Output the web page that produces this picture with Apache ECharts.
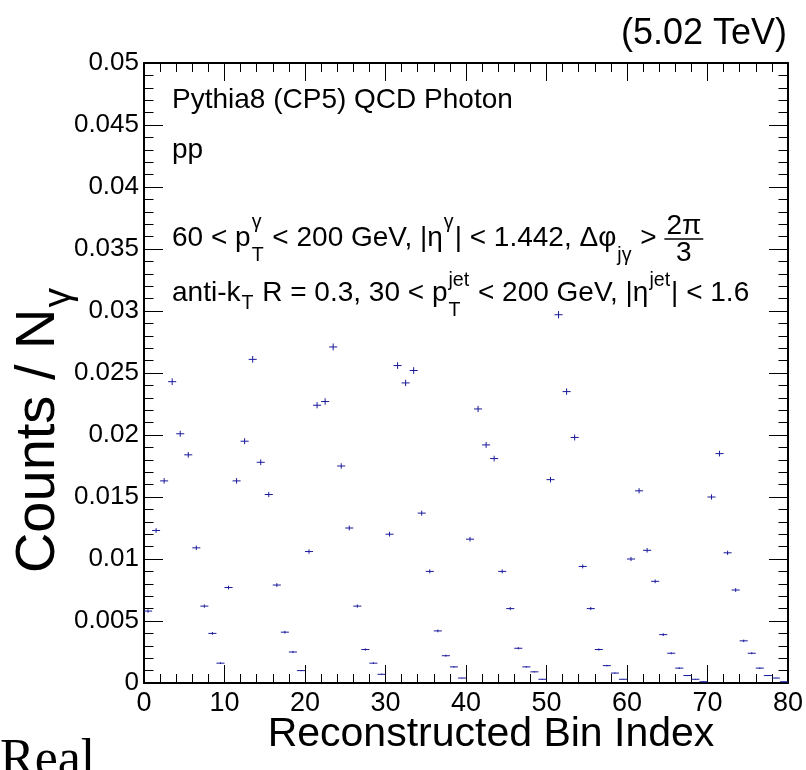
<!DOCTYPE html>
<html>
<head>
<meta charset="utf-8">
<script src="https://cdn.jsdelivr.net/npm/echarts@6/dist/echarts.min.js"></script>
<style>
html,body{margin:0;padding:0;background:#fff;}
#chart{width:806px;height:770px;}
</style>
</head>
<body>
<div id="chart"></div>
<script>
// ---- data ----
const binCenters = [0.5,1.5,2.5,3.5,4.5,5.5,6.5,7.5,8.5,9.5,10.5,11.5,12.5,13.5,14.5,15.5,16.5,17.5,18.5,19.5,
  20.5,21.5,22.5,23.5,24.5,25.5,26.5,27.5,28.5,29.5,30.5,31.5,32.5,33.5,34.5,35.5,36.5,37.5,38.5,39.5,
  40.5,41.5,42.5,43.5,44.5,45.5,46.5,47.5,48.5,49.5,50.5,51.5,52.5,53.5,54.5,55.5,56.5,57.5,58.5,59.5,
  60.5,61.5,62.5,63.5,64.5,65.5,66.5,67.5,68.5,69.5,70.5,71.5,72.5,73.5,74.5,75.5,76.5,77.5,78.5,79.5];
const countsPerPhoton = [0.0058,0.0123,0.0163,0.0243,0.0201,0.0184,0.0109,0.0062,0.0040,0.0016,
  0.0077,0.0163,0.0195,0.0261,0.0178,0.0152,0.0079,0.0041,0.0025,0.0010,
  0.0106,0.0224,0.0227,0.0271,0.0175,0.0125,0.0062,0.0027,0.0016,0.0007,
  0.0120,0.0256,0.0242,0.0252,0.0137,0.0090,0.0042,0.0022,0.0013,0.0004,
  0.0116,0.0221,0.0192,0.0181,0.0090,0.0060,0.0028,0.0013,0.0009,0.0003,
  0.0164,0.0297,0.0235,0.0198,0.0094,0.0060,0.0027,0.0014,0.0008,0.0003,
  0.0100,0.0155,0.0107,0.0082,0.0039,0.0024,0.0012,0.0006,0.0003,0.0001,
  0.0150,0.0185,0.0105,0.0075,0.0034,0.0024,0.0012,0.0006,0.0004,0.0001];
const statErrors = [0.00013,0.00019,0.00022,0.00027,0.00024,0.00023,0.00018,0.00013,0.00011,0.00007,
  0.00015,0.00022,0.00024,0.00027,0.00023,0.00021,0.00015,0.00011,0.00009,0.00005,
  0.00018,0.00025,0.00026,0.00028,0.00022,0.00019,0.00013,0.00009,0.00007,0.00005,
  0.00019,0.00027,0.00026,0.00027,0.00020,0.00016,0.00011,0.00008,0.00006,0.00003,
  0.00018,0.00025,0.00024,0.00023,0.00016,0.00013,0.00009,0.00006,0.00005,0.00003,
  0.00022,0.00029,0.00026,0.00024,0.00016,0.00013,0.00009,0.00006,0.00005,0.00003,
  0.00017,0.00021,0.00018,0.00015,0.00011,0.00008,0.00006,0.00004,0.00003,0.00002,
  0.00021,0.00023,0.00017,0.00015,0.00010,0.00008,0.00006,0.00004,0.00003,0.00002];
const binWidth = 1;
const xTickLabels = ['0','10','20','30','40','50','60','70','80'];
const yTickLabels = ['0','0.005','0.01','0.015','0.02','0.025','0.03','0.035','0.04','0.045','0.05'];

// ---- styling ----
const FONT = '"Liberation Sans", Arial, Helvetica, sans-serif';
const SERIF = '"Liberation Serif", "Times New Roman", serif';
const MARK = '#1a1a9c';

const cv = document.createElement('canvas').getContext('2d');
function tw(text, size, fam) { cv.font = size + 'px ' + (fam || FONT); return cv.measureText(text).width; }

function txt(text, x, baseline, size, fam) {
  return { type: 'text', x: x, y: baseline - 0.3465 * size, silent: true,
    style: { text: text, font: size + 'px ' + (fam || FONT), fill: '#000', align: 'left', verticalAlign: 'middle' } };
}

// layout of a ROOT-like latex line
function latex(segs, x0, base, S, small) {
  const els = []; let x = x0; const s2 = S * (small || 0.7);
  segs.forEach(g => {
    if (g.t !== undefined) { els.push(txt(g.t, x, base, S)); x += tw(g.t, S); }
    else if (g.frac) {
      const wn = tw(g.frac[0], S), wd = tw(g.frac[1], S), w = Math.max(wn, wd) + 4;
      els.push(txt(g.frac[0], x + (w - wn) / 2, base + g.numDy, S));
      els.push(txt(g.frac[1], x + (w - wd) / 2, base + g.denDy, S));
      els.push({ type: 'line', silent: true, shape: { x1: x, y1: base + g.barDy, x2: x + w, y2: base + g.barDy },
        style: { stroke: '#000', lineWidth: 1.5 } });
      x += w;
    } else {
      let w = 0;
      if (g.sub) { els.push(txt(g.sub, x + 1, base + g.subDy, s2)); w = Math.max(w, tw(g.sub, s2)); }
      if (g.sup) { els.push(txt(g.sup, x + 1, base + g.supDy, s2)); w = Math.max(w, tw(g.sup, s2)); }
      x += w + 2;
    }
  });
  return { els: els, width: x - x0 };
}

const line1 = latex([{ t: 'Pythia8 (CP5) QCD Photon' }], 172, 110, 28);
const line2 = latex([{ t: 'pp' }], 172, 160, 28);
const line3 = latex([
  { t: '60 < p' }, { sub: 'T', sup: 'γ', subDy: 14, supDy: -19 },
  { t: ' < 200 GeV, |η' }, { sup: 'γ', supDy: -19 },
  { t: '| < 1.442, Δφ' }, { sub: 'jγ', subDy: 14 },
  { t: ' > ' }, { frac: ['2π', '3'], numDy: -12, denDy: 15, barDy: -9 }
], 172, 248, 28);
const line4 = latex([
  { t: 'anti-k' }, { sub: 'T', subDy: 7 },
  { t: ' R = 0.3, 30 < p' }, { sub: 'T', sup: 'jet', subDy: 14, supDy: -16 },
  { t: ' < 200 GeV, |η' }, { sup: 'jet', supDy: -16 },
  { t: '| < 1.6' }
], 172, 303, 28);

// energy label (right aligned)
const energyText = '(5.02 TeV)';
const energyEl = txt(energyText, 787 - tw(energyText, 36), 47, 36);

// x-axis title
const xTitle = 'Reconstructed Bin Index';
const xTitleSize = 41;
const xTitleEl = txt(xTitle, 491 - tw(xTitle, xTitleSize) / 2, 749, xTitleSize);

// y-axis title (rotated)
const yT = latex([{ t: 'Counts / N' }, { sub: 'γ', subDy: 15 }], 0, 0, 56);
const yTitleGroup = { type: 'group', x: 58, y: 430, rotation: Math.PI / 2,
  children: yT.els.map(e => Object.assign({}, e, { x: e.x - yT.width / 2 })) };

// clipped serif text at bottom-left
const cornerEl = txt('Real', 0, 779, 52, SERIF);

const chart = echarts.init(document.getElementById('chart'), null, { renderer: 'canvas' });

const axisCommon = {
  type: 'value',
  axisLine: { show: true, onZero: false, lineStyle: { color: '#000', width: 2 } },
  splitLine: { show: false },
};
function xAx(pos, label) {
  return Object.assign({}, axisCommon, {
    position: pos, min: 0, max: 80, interval: 10,
    axisTick: { show: true, inside: true, length: 18, lineStyle: { color: '#000', width: 1 } },
    minorTick: { show: true, splitNumber: 5, length: 9, lineStyle: { color: '#000', width: 1 } },
    axisLabel: { show: label, color: '#000', fontFamily: FONT, fontSize: 27, margin: 7,
      formatter: v => xTickLabels[Math.round(v / 10)] }
  });
}
function yAx(pos, label) {
  return Object.assign({}, axisCommon, {
    position: pos, min: 0, max: 0.05, interval: 0.005,
    axisTick: { show: true, inside: true, length: 19, lineStyle: { color: '#000', width: 1 } },
    minorTick: { show: true, splitNumber: 5, length: 9.5, lineStyle: { color: '#000', width: 1 } },
    axisLabel: { show: label, color: '#000', fontFamily: FONT, fontSize: 26, margin: 5,
      formatter: v => yTickLabels[Math.round(v / 0.005)] }
  });
}

const seriesData = binCenters.map((c, i) => [c, countsPerPhoton[i], statErrors[i]]);

chart.setOption({
  animation: false,
  backgroundColor: '#fff',
  grid: { left: 144, right: 17, top: 63, bottom: 87, containLabel: false },
  xAxis: [xAx('bottom', true), xAx('top', false)],
  yAxis: [yAx('left', true), yAx('right', false)],
  series: [{
    type: 'custom', xAxisIndex: 0, yAxisIndex: 0, data: seriesData, clip: false,
    renderItem: function (params, api) {
      const x = api.value(0), y = api.value(1), e = api.value(2);
      const p = api.coord([x, y]);
      const l = api.coord([x - binWidth / 2, y]);
      const r = api.coord([x + binWidth / 2, y]);
      const t = api.coord([x, y + e]);
      const b = api.coord([x, y - e]);
      const st = { stroke: MARK, lineWidth: 1 };
      return { type: 'group', children: [
        { type: 'line', shape: { x1: l[0], y1: p[1], x2: r[0], y2: p[1] }, style: st },
        { type: 'line', shape: { x1: p[0], y1: t[1], x2: p[0], y2: b[1] }, style: st }
      ] };
    }
  }],
  graphic: { elements: [].concat(line1.els, line2.els, line3.els, line4.els,
    [energyEl, xTitleEl, yTitleGroup, cornerEl]) }
});
</script>
</body>
</html>
